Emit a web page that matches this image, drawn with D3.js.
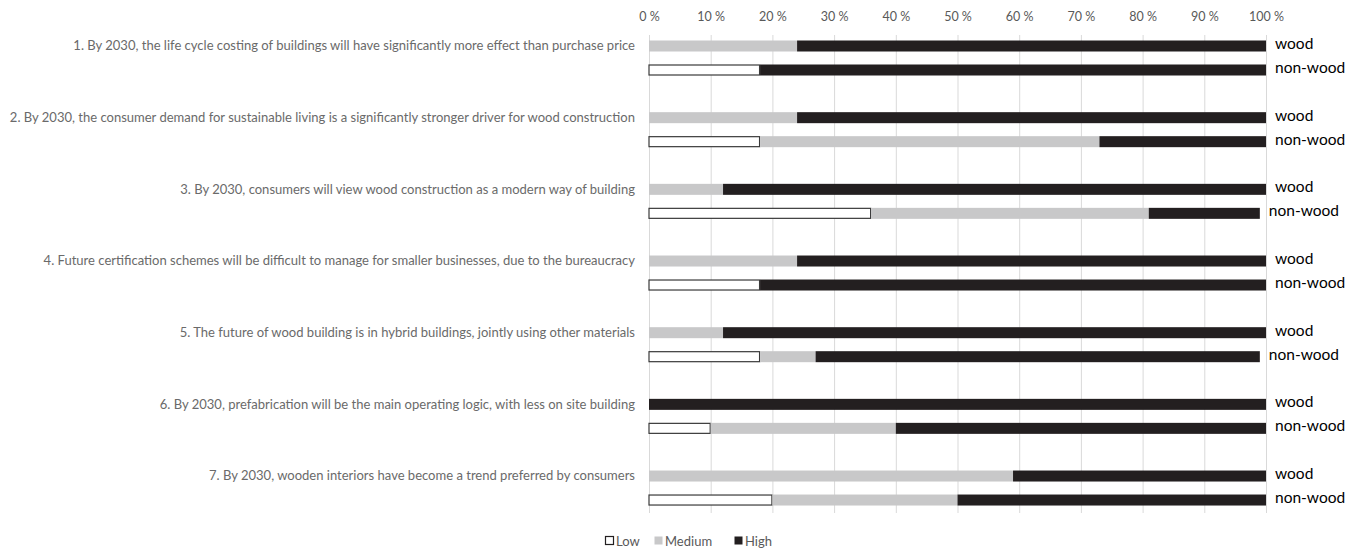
<!DOCTYPE html>
<html>
<head>
<meta charset="utf-8">
<script src="https://cdn.jsdelivr.net/npm/d3@7"></script>
<style>
  html, body { margin: 0; padding: 0; background: #fff; }
  svg { display: block; }
</style>
</head>
<body>
<svg id="chart" width="1357" height="548"></svg>
<script>
// ---- data ----
const questions = [
  "1. By 2030, the life cycle costing of buildings will have significantly more effect than purchase price",
  "2. By 2030, the consumer demand for sustainable living is a significantly stronger driver for wood construction",
  "3. By 2030, consumers will view wood construction as a modern way of building",
  "4. Future certification schemes will be difficult to manage for smaller businesses, due to the bureaucracy",
  "5. The future of wood building is in hybrid buildings, jointly using other materials",
  "6. By 2030, prefabrication will be the main operating logic, with less on site building",
  "7. By 2030, wooden interiors have become a trend preferred by consumers"
];
const groups = ["wood", "non-wood"];
const levels = ["Low", "Medium", "High"];
// percentages per question: [Low, Medium, High]
const woodValues = [
  [0, 24, 76],
  [0, 24, 76],
  [0, 12, 88],
  [0, 24, 76],
  [0, 12, 88],
  [0, 0, 100],
  [0, 59, 41]
];
const nonWoodValues = [
  [18, 0, 82],
  [18, 55, 27],
  [36, 45, 18],
  [18, 0, 82],
  [18, 9, 72],
  [10, 30, 60],
  [20, 30, 50]
];
const tickValues = [0, 10, 20, 30, 40, 50, 60, 70, 80, 90, 100];

// ---- chart ----
const svg = d3.select("#chart");
const x = d3.scaleLinear().domain([0, 100]).range([649, 1266]);
const yGroup = d3.scaleBand().domain(d3.range(questions.length)).range([22, 523.7]).padding(0);
const yInner = d3.scalePoint().domain(groups).range([24, 48]);
const color = d3.scaleOrdinal().domain(levels).range(["#ffffff", "#c8c8c9", "#231f20"]);
const bh = 11;
const yc = (q, g) => yGroup(q) + yInner(g);

// gridlines
svg.append("g").selectAll("line").data(tickValues).join("line")
  .attr("x1", d => x(d) + 0.5).attr("x2", d => x(d) + 0.5)
  .attr("y1", 35).attr("y2", 513)
  .attr("stroke", "#d9d9d9").attr("stroke-width", 1);

// top axis
const axis = d3.axisTop(x).tickValues(tickValues).tickFormat(d => d + " %").tickSize(0);
const ag = svg.append("g").attr("transform", "translate(0,24)").call(axis);
ag.select(".domain").remove();
ag.selectAll("text").attr("fill", "#595959").style("font-family", "Lato, 'Open Sans', sans-serif").style("font-size", "12.5px");

// bars
const rows = [];
questions.forEach((q, i) => {
  [["wood", woodValues[i]], ["non-wood", nonWoodValues[i]]].forEach(([g, vals]) => {
    let acc = 0;
    vals.forEach((v, k) => {
      rows.push({ q: i, g, level: levels[k], x0: acc, x1: acc + v });
      acc += v;
    });
    rows.push({ q: i, g, label: true, end: acc });
  });
});

svg.append("g").selectAll("rect").data(rows.filter(d => !d.label && d.x1 > d.x0)).join("rect")
  .attr("x", d => x(d.x0))
  .attr("y", d => yc(d.q, d.g) - bh / 2 + (d.level === "Low" ? 0.5 : 0))
  .attr("width", d => x(d.x1) - x(d.x0) - (d.level === "Low" ? 0.5 : 0))
  .attr("height", d => bh - (d.level === "Low" ? 1 : 0))
  .attr("fill", d => color(d.level))
  .attr("stroke", d => d.level === "Low" ? "#3a3a3a" : "none")
  .attr("stroke-width", 1.2);

// series labels at bar ends
svg.append("g").selectAll("text").data(rows.filter(d => d.label)).join("text")
  .attr("x", d => x(d.end) + 9)
  .attr("y", d => yc(d.q, d.g) - 2)
  .attr("dy", "0.33em")
  .attr("fill", "#000")
  .style("font-family", "Lato, 'Open Sans', sans-serif")
  .style("font-size", "15.5px")
  .text(d => d.g);

// question labels
const ql = svg.append("g").selectAll("text").data(questions).join("text")
  .attr("x", 635)
  .attr("y", (d, i) => yc(i, "wood"))
  .attr("dy", "0.33em")
  .attr("text-anchor", "end")
  .attr("fill", "#6a6a6a")
  .style("font-family", "Lato, 'Open Sans', sans-serif")
  .style("font-size", "13px")
  .text(d => d);
// fit font size so the longest label spans like the reference (~626px)
const w2 = ql.nodes()[1].getComputedTextLength();
const fs = 13 * 626 / w2;
ql.style("font-size", fs + "px");

// legend
const leg = svg.append("g");
const legendX = [605, 654, 734];
levels.forEach((l, k) => {
  leg.append("rect")
    .attr("x", legendX[k] + 0.5).attr("y", 536.5).attr("width", 8).attr("height", 8)
    .attr("fill", color(l))
    .attr("stroke", l === "Low" ? "#231f20" : "none").attr("stroke-width", 1.2);
  leg.append("text")
    .attr("x", legendX[k] + 11).attr("y", 541).attr("dy", "0.35em")
    .attr("fill", "#595959")
    .style("font-family", "Lato, 'Open Sans', sans-serif")
    .style("font-size", "13px")
    .text(l);
});
</script>
</body>
</html>
